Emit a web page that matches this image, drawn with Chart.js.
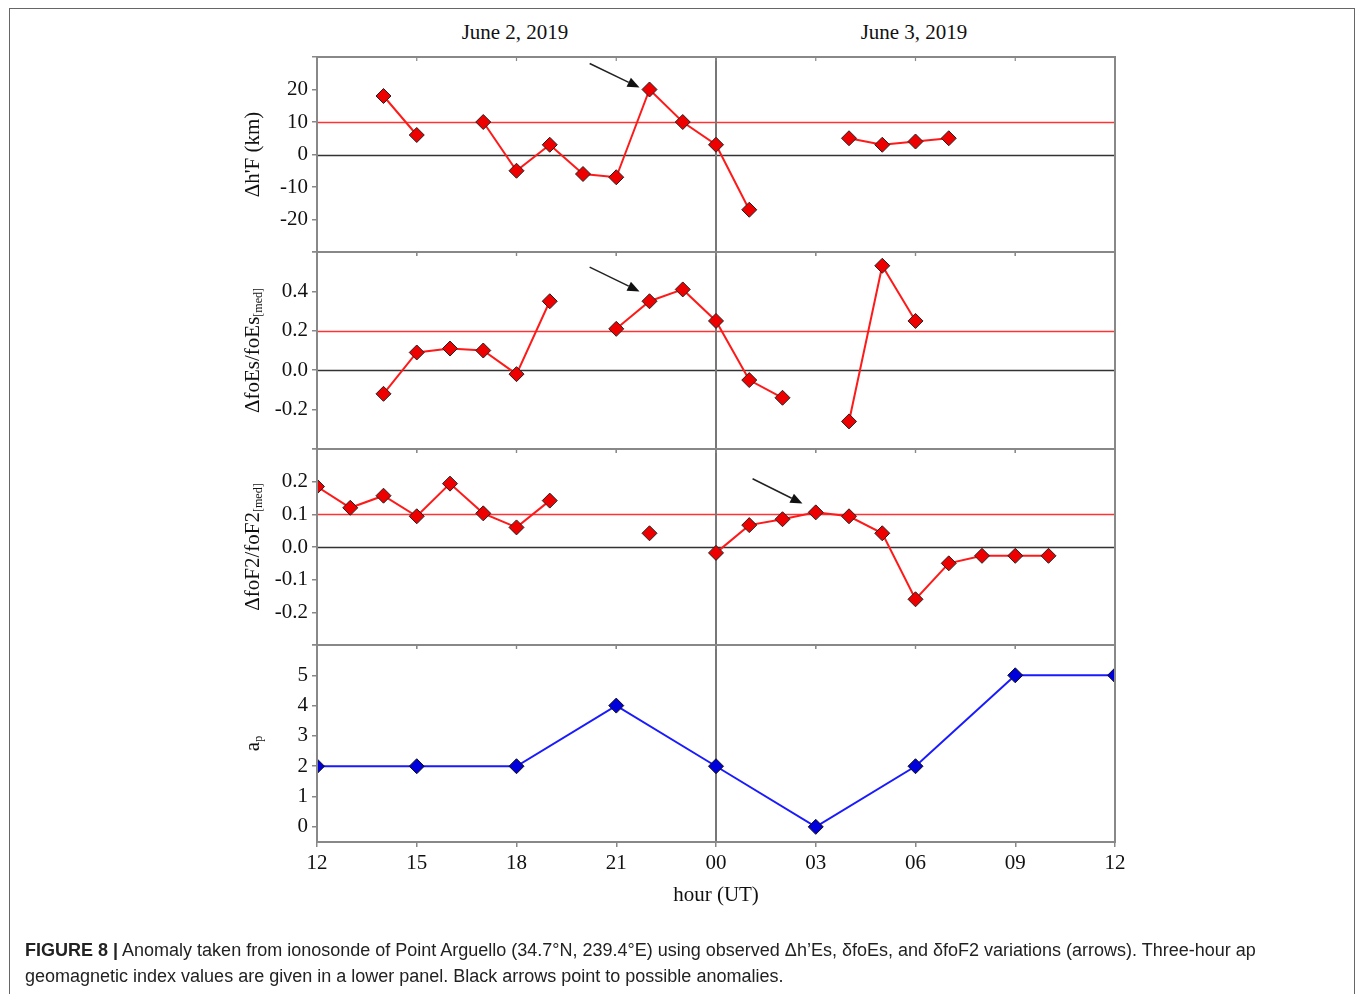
<!DOCTYPE html>
<html>
<head>
<meta charset="utf-8">
<script src="https://cdn.jsdelivr.net/npm/chart.js@4.4.0/dist/chart.umd.min.js"></script>
<style>
  body { margin: 0; background: #fff; }
  #page { position: relative; width: 1355px; height: 994px; overflow: hidden; background: #fff; }
  .frame { position: absolute; left: 9px; top: 8px; width: 1346px; height: 1000px; border: 1px solid #666; box-sizing: border-box; }
  canvas { position: absolute; left: 0; top: 0; }
  .day { position: absolute; top: 20px; width: 200px; margin-left: -100px; text-align: center;
         font-family: 'Liberation Serif', serif; font-size: 21px; color: #111; }
  .caption { position: absolute; left: 25px; top: 937px; font-family: 'Liberation Sans', Arial, sans-serif;
             font-size: 18px; line-height: 26px; color: #222; white-space: nowrap; }
</style>
</head>
<body>
<div id="page">
  <div class="frame"></div>
  <div class="day" style="left:515px">June 2, 2019</div>
  <div class="day" style="left:914px">June 3, 2019</div>
  <canvas id="c1" width="1355" height="994"></canvas>
  <canvas id="c2" width="1355" height="994"></canvas>
  <canvas id="c3" width="1355" height="994"></canvas>
  <canvas id="c4" width="1355" height="994"></canvas>
  <div class="caption"><b>FIGURE 8 |</b> Anomaly taken from ionosonde of Point Arguello (34.7°N, 239.4°E) using observed Δh’Es, δfoEs, and δfoF2 variations (arrows). Three-hour ap<br>geomagnetic index values are given in a lower panel. Black arrows point to possible anomalies.</div>
</div>
<script>
// hours UT, 12 on June 2 .. 12 on June 3 (36 = 12 next day)
const hours = [12,13,14,15,16,17,18,19,20,21,22,23,24,25,26,27,28,29,30,31,32,33,34,35,36];
const xTickHours = [12,15,18,21,24,27,30,33,36];
const xTickLabels = ['12','15','18','21','00','03','06','09','12'];
const dayBreak = 24;

// delta h'F (km)
const dhF = [null,null,18,6,null,10,-5,3,-6,-7,20,10,3,-17,null,null,5,3,4,5,null,null,null,null,null];
// delta foEs / foEs[med]
const dfoEs = [null,null,-0.12,0.09,0.11,0.10,-0.02,0.35,null,0.21,0.35,0.41,0.25,-0.05,-0.14,null,-0.26,0.53,0.25,null,null,null,null,null,null];
// delta foF2 / foF2[med]
const dfoF2 = [0.185,0.12,0.157,0.094,0.194,0.103,0.06,0.142,null,null,0.042,null,-0.018,0.067,0.085,0.106,0.094,0.042,-0.16,-0.05,-0.027,-0.027,-0.027,null,null];
// three-hour ap
const apHours = [12,15,18,21,24,27,30,33,36];
const apValues = [2,2,2,4,2,0,2,5,5];

const yTicks1 = [-30,-20,-10,0,10,20,30];
const yTicks2 = [-0.4,-0.2,0,0.2,0.4,0.6];
const yTicks3 = [-0.3,-0.2,-0.1,0,0.1,0.2,0.3];
const yTicks4 = [0,1,2,3,4,5,6];

const SERIF = "'Liberation Serif', 'Times New Roman', serif";
const PAD_L = 190, PLOT_L = 317, PLOT_R = 1115, H = 994;
const panels = [57, 252, 449, 645, 842];

const decor = {
  id: 'decor',
  beforeDatasetsDraw(chart, args, o) {
    const { ctx, chartArea: a, scales: { x, y } } = chart;
    ctx.save();
    (o.refs || []).forEach(r => {
      const py = Math.round(y.getPixelForValue(r.value)) + 0.5;
      ctx.strokeStyle = r.color; ctx.lineWidth = r.width;
      ctx.beginPath(); ctx.moveTo(a.left, py); ctx.lineTo(a.right, py); ctx.stroke();
    });
    const px = x.getPixelForValue(dayBreak);
    ctx.strokeStyle = '#777'; ctx.lineWidth = 2;
    ctx.beginPath(); ctx.moveTo(px, a.top); ctx.lineTo(px, a.bottom); ctx.stroke();
    ctx.restore();
  },
  afterDatasetsDraw(chart, args, o) {
    const { ctx, chartArea: a, scales: { x, y } } = chart;
    ctx.save();
    ctx.strokeStyle = '#888'; ctx.lineWidth = 2;
    ctx.strokeRect(a.left, a.top, a.right - a.left, a.bottom - a.top);
    ctx.lineWidth = 1.2;
    xTickHours.forEach(h => {
      const px = x.getPixelForValue(h);
      ctx.beginPath(); ctx.moveTo(px, a.top); ctx.lineTo(px, a.top + 4);
      if (!o.lastPanel) { ctx.moveTo(px, a.bottom); ctx.lineTo(px, a.bottom + 4); }
      ctx.stroke();
    });
    // arrows pointing at anomalies
    (o.arrows || []).forEach(ar => {
      const x0 = x.getPixelForValue(ar.from[0]), y0 = y.getPixelForValue(ar.from[1]);
      const x1 = x.getPixelForValue(ar.to[0]), y1 = y.getPixelForValue(ar.to[1]);
      const ang = Math.atan2(y1 - y0, x1 - x0), hl = 12, hw = 5;
      ctx.strokeStyle = '#222'; ctx.fillStyle = '#111'; ctx.lineWidth = 1.5;
      ctx.beginPath(); ctx.moveTo(x0, y0);
      ctx.lineTo(x1 - hl * Math.cos(ang), y1 - hl * Math.sin(ang)); ctx.stroke();
      ctx.beginPath(); ctx.moveTo(x1, y1);
      ctx.lineTo(x1 - hl * Math.cos(ang) + hw * Math.sin(ang), y1 - hl * Math.sin(ang) - hw * Math.cos(ang));
      ctx.lineTo(x1 - hl * Math.cos(ang) - hw * Math.sin(ang), y1 - hl * Math.sin(ang) + hw * Math.cos(ang));
      ctx.closePath(); ctx.fill();
    });
    // rotated axis title with optional subscript
    if (o.title) {
      const cy = (a.top + a.bottom) / 2;
      ctx.translate(o.titleX, cy); ctx.rotate(-Math.PI / 2);
      ctx.fillStyle = '#111'; ctx.textBaseline = 'middle'; ctx.textAlign = 'left';
      ctx.font = `21px ${SERIF}`;
      const w1 = ctx.measureText(o.title).width;
      ctx.font = `12px ${SERIF}`;
      const w2 = o.sub ? ctx.measureText(o.sub).width : 0;
      const x0 = -(w1 + w2) / 2;
      ctx.font = `21px ${SERIF}`;
      ctx.fillText(o.title, x0, 0);
      if (o.sub) { ctx.font = `12px ${SERIF}`; ctx.fillText(o.sub, x0 + w1, 6); }
    }
    ctx.restore();
  }
};

function yScale(min, max, ticks, fmt) {
  return {
    min, max,
    afterFit: s => { s.width = PLOT_L - PAD_L; },
    afterBuildTicks: s => { s.ticks = ticks.map(v => ({ value: v })); },
    ticks: {
      autoSkip: false, padding: 4, color: '#111',
      font: { family: SERIF, size: 21 },
      callback: (v) => (v === min || v === max) ? '' : fmt(v)
    },
    grid: { drawOnChartArea: false, tickLength: 5, color: '#888', lineWidth: 1.5 },
    border: { display: false }
  };
}

function xScale(last) {
  const s = { type: 'linear', min: 12, max: 36, display: !!last };
  if (last) {
    Object.assign(s, {
      afterFit: sc => { sc.height = 72; },
      afterBuildTicks: sc => { sc.ticks = xTickHours.map(v => ({ value: v })); },
      ticks: {
        autoSkip: false, maxRotation: 0, padding: 4, color: '#111',
        font: { family: SERIF, size: 21 },
        callback: v => xTickLabels[xTickHours.indexOf(v)]
      },
      grid: { drawOnChartArea: false, tickLength: 5, color: '#888', lineWidth: 1.5 },
      border: { display: false },
      title: { display: true, text: 'hour (UT)', color: '#111', font: { family: SERIF, size: 21 }, padding: { top: 0, bottom: 6 } }
    });
  }
  return s;
}

function redSeries(values) {
  return {
    data: values,
    borderColor: '#ff1a1a', borderWidth: 2,
    pointStyle: 'rectRot', pointRadius: 7.5,
    pointBackgroundColor: '#ee0000', pointBorderColor: '#222', pointBorderWidth: 1,
    spanGaps: false, tension: 0
  };
}

function makePanel(id, idx, dataset, y, decorOpts, last) {
  const top = panels[idx], bottom = panels[idx + 1];
  return new Chart(document.getElementById(id), {
    type: 'line',
    data: { labels: hours, datasets: [dataset] },
    options: {
      responsive: false, animation: false,
      events: [],
      layout: { padding: { left: PAD_L, right: 1355 - PLOT_R, top: top, bottom: last ? H - bottom - 72 : H - bottom } },
      scales: { x: xScale(last), y: y },
      plugins: {
        legend: { display: false }, tooltip: { enabled: false },
        decor: Object.assign({ titleX: 253, lastPanel: !!last }, decorOpts)
      }
    },
    plugins: [decor]
  });
}

const fmtInt = v => String(v);
const fmt1 = v => (Math.abs(v) < 1e-9 ? 0 : v).toFixed(1);

makePanel('c1', 0, redSeries(dhF), yScale(-30, 30, yTicks1, fmtInt), {
  title: "Δh'F (km)",
  refs: [{ value: 10, color: '#ff3333', width: 1.5 }, { value: 0, color: '#333', width: 1.5 }],
  arrows: [{ from: [20.2, 28], to: [21.7, 20.6] }]
});

makePanel('c2', 1, redSeries(dfoEs), yScale(-0.4, 0.6, yTicks2, fmt1), {
  title: 'ΔfoEs/foEs', sub: '[med]',
  refs: [{ value: 0.2, color: '#ff3333', width: 1.5 }, { value: 0, color: '#333', width: 1.5 }],
  arrows: [{ from: [20.2, 0.523], to: [21.7, 0.40] }]
});

makePanel('c3', 2, redSeries(dfoF2), yScale(-0.3, 0.3, yTicks3, fmt1), {
  title: 'ΔfoF2/foF2', sub: '[med]',
  refs: [{ value: 0.1, color: '#ff3333', width: 1.5 }, { value: 0, color: '#333', width: 1.5 }],
  arrows: [{ from: [25.1, 0.209], to: [26.6, 0.133] }]
});

makePanel('c4', 3, {
  data: apHours.map((h, i) => ({ x: h, y: apValues[i] })),
  borderColor: '#1a1aff', borderWidth: 2,
  pointStyle: 'rectRot', pointRadius: 7.5,
  pointBackgroundColor: '#0000dd', pointBorderColor: '#111', pointBorderWidth: 1,
  tension: 0
}, yScale(-0.5, 6, yTicks4, fmtInt), {
  title: 'a', sub: 'p'
}, true);
</script>
</body>
</html>
